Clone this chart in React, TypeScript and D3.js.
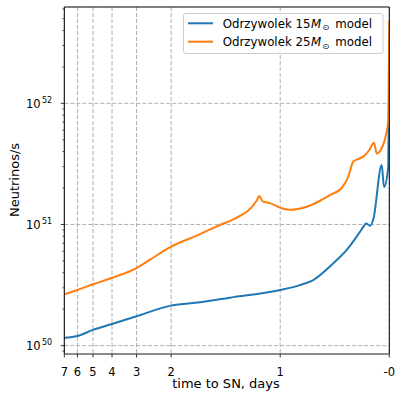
import React from "react";
import * as d3 from "d3";

// time to SN (days) and neutrino rate
const days15 = [7, 6, 5, 4, 3, 2, 1.735, 1.46, 1.0, 0.819, 0.697, 0.513, 0.39, 0.299, 0.238, 0.214, 0.177, 0.147, 0.0697, 0.0486, 0.0092, 0];
const rate15 = [1.16e50, 1.2e50, 1.35e50, 1.51e50, 1.75e50, 2.14e50, 2.28e50, 2.49e50, 2.88e50, 3.16e50, 3.48e50, 4.79e50, 6.17e50, 7.94e50, 9.55e50, 1.02e51, 9.77e50, 1.1e51, 3.09e51, 2.04e51, 3.02e51, 2.0e52];

const days25 = [7, 6, 5, 4, 3, 2.56, 2, 1.735, 1.552, 1.43, 1.215, 1.192, 1.161, 1.094, 0.986, 0.91, 0.757, 0.635, 0.544, 0.436, 0.376, 0.33, 0.284, 0.238, 0.183, 0.14, 0.1156, 0.0788, 0.0302, 0.0092, 0];
const rate25 = [2.65e50, 2.88e50, 3.21e50, 3.63e50, 4.37e50, 5.13e50, 6.56e50, 8.32e50, 9.91e50, 1.1e51, 1.58e51, 1.72e51, 1.55e51, 1.5e51, 1.36e51, 1.32e51, 1.4e51, 1.57e51, 1.75e51, 2.0e51, 2.48e51, 3.31e51, 3.47e51, 3.63e51, 4.12e51, 4.73e51, 3.86e51, 4.12e51, 5.5e51, 7.24e51, 4.79e52];

const xTicks = [7, 6, 5, 4, 3, 2, 1, 0];
const xTickLabels = ["7", "6", "5", "4", "3", "2", "1", "-0"];
const yTicks = [1e50, 1e51, 1e52];
const yTickExp = ["50", "51", "52"];

const seriesNames = ["15", "25"];
const colors = ["#1f77b4", "#ff7f0e"];

const W = 396, H = 393;
const left = 64.3, right = 389.3, top = 7, bottom = 354;
const font = "DejaVu Sans, sans-serif";

// matplotlib-like symlog, linthresh 2, linscale 1
const LINTHRESH = 2;
const LINSCALE = 1 / (1 - 1 / 10);
const symlog = (t: number) =>
  t <= LINTHRESH ? (t / LINTHRESH) * LINSCALE : LINSCALE + Math.log10(t / LINTHRESH);

const xLin = d3.scaleLinear().domain([symlog(7), symlog(0)]).range([left, right]);
const x = (t: number) => xLin(symlog(t));
const y = d3.scaleLog().domain([Math.pow(10, 49.931), Math.pow(10, 52.795)]).range([bottom, top]);

const minorY: number[] = [];
for (let e = 49; e <= 52; e++) {
  for (let k = 2; k <= 9; k++) {
    const v = k * Math.pow(10, e);
    if (y(v) >= top && y(v) <= bottom) minorY.push(v);
  }
}

const line = d3
  .line<[number, number]>()
  .x((d) => x(d[0]))
  .y((d) => y(d[1]))
  .curve(d3.curveMonotoneX);

const App = () => {
  const series = [
    d3.zip(days15, rate15) as [number, number][],
    d3.zip(days25, rate25) as [number, number][],
  ];

  return (
    <svg width={W} height={H} style={{ position: "absolute", left: 0, top: 0, background: "white" }} fontFamily={font}>
      <defs>
        <clipPath id="plot">
          <rect x={left} y={top} width={right - left} height={bottom - top} />
        </clipPath>
      </defs>

      {/* grid */}
      {xTicks.map((t) => (
        <line key={"gx" + t} x1={x(t)} x2={x(t)} y1={top} y2={bottom} stroke="#b0b0b0" strokeWidth={1} strokeDasharray="4,2" />
      ))}
      {yTicks.map((v) => (
        <line key={"gy" + v} x1={left} x2={right} y1={y(v)} y2={y(v)} stroke="#b0b0b0" strokeWidth={1} strokeDasharray="4,2" />
      ))}

      {/* curves */}
      <g clipPath="url(#plot)">
        {series.map((s, i) => (
          <path key={i} d={line(s) || ""} fill="none" stroke={colors[i]} strokeWidth={2} strokeLinejoin="round" />
        ))}
      </g>

      {/* spines */}
      <line x1={left} x2={right} y1={top} y2={top} stroke="black" strokeWidth={1} />
      <line x1={left} x2={left} y1={top} y2={bottom} stroke="black" strokeWidth={1} />
      <line x1={right} x2={right} y1={top} y2={bottom} stroke="black" strokeWidth={1} />
      <line x1={left} x2={right} y1={bottom} y2={bottom} stroke="#666" strokeWidth={1.6} />

      {/* x ticks */}
      {xTicks.map((t, i) => (
        <g key={"xt" + t}>
          <line x1={x(t)} x2={x(t)} y1={bottom} y2={bottom + 3.5} stroke="black" strokeWidth={0.8} />
          <text x={x(t)} y={376} fontSize={11.5} textAnchor="middle" fill="black">
            {xTickLabels[i]}
          </text>
        </g>
      ))}

      {/* y ticks */}
      {minorY.map((v) => (
        <line key={"my" + v} x1={left - 2} x2={left} y1={y(v)} y2={y(v)} stroke="black" strokeWidth={0.6} />
      ))}
      {yTicks.map((v, i) => (
        <g key={"yt" + v}>
          <line x1={left - 3.5} x2={left} y1={y(v)} y2={y(v)} stroke="black" strokeWidth={0.8} />
          <text x={40.7} y={y(v) + 4.8} fontSize={11.5} textAnchor="end" fill="black">
            10
          </text>
          <text x={42} y={y(v) - 0.5} fontSize={8} textAnchor="start" fill="black">
            {yTickExp[i]}
          </text>
        </g>
      ))}

      {/* axis labels */}
      <text x={226} y={388} fontSize={13} textAnchor="middle" fill="black">
        time to SN, days
      </text>
      <text transform={`translate(18.5,180) rotate(-90)`} fontSize={13} textAnchor="middle" fill="black">
        Neutrinos/s
      </text>

      {/* legend */}
      <rect x={183.5} y={13.5} width={199.5} height={40} rx={2.5} fill="white" fillOpacity={0.8} stroke="#cccccc" strokeWidth={1} />
      {seriesNames.map((n, i) => {
        const ly = 23.3 + i * 18.4;
        return (
          <g key={"lg" + n}>
            <line x1={188} x2={213} y1={ly} y2={ly} stroke={colors[i]} strokeWidth={2} />
            <text x={222.7} y={ly + 4.3} fontSize={11.8} fill="black">
              {"Odrzywolek " + n}
              <tspan fontStyle="italic" dx={0.5}>M</tspan>
              <tspan fontSize={8.2} dx={1} dy={2.5}>{"⊙"}</tspan>
              <tspan dx={2.5} dy={-2.5}>{" model"}</tspan>
            </text>
          </g>
        );
      })}
    </svg>
  );
};

export default App;
